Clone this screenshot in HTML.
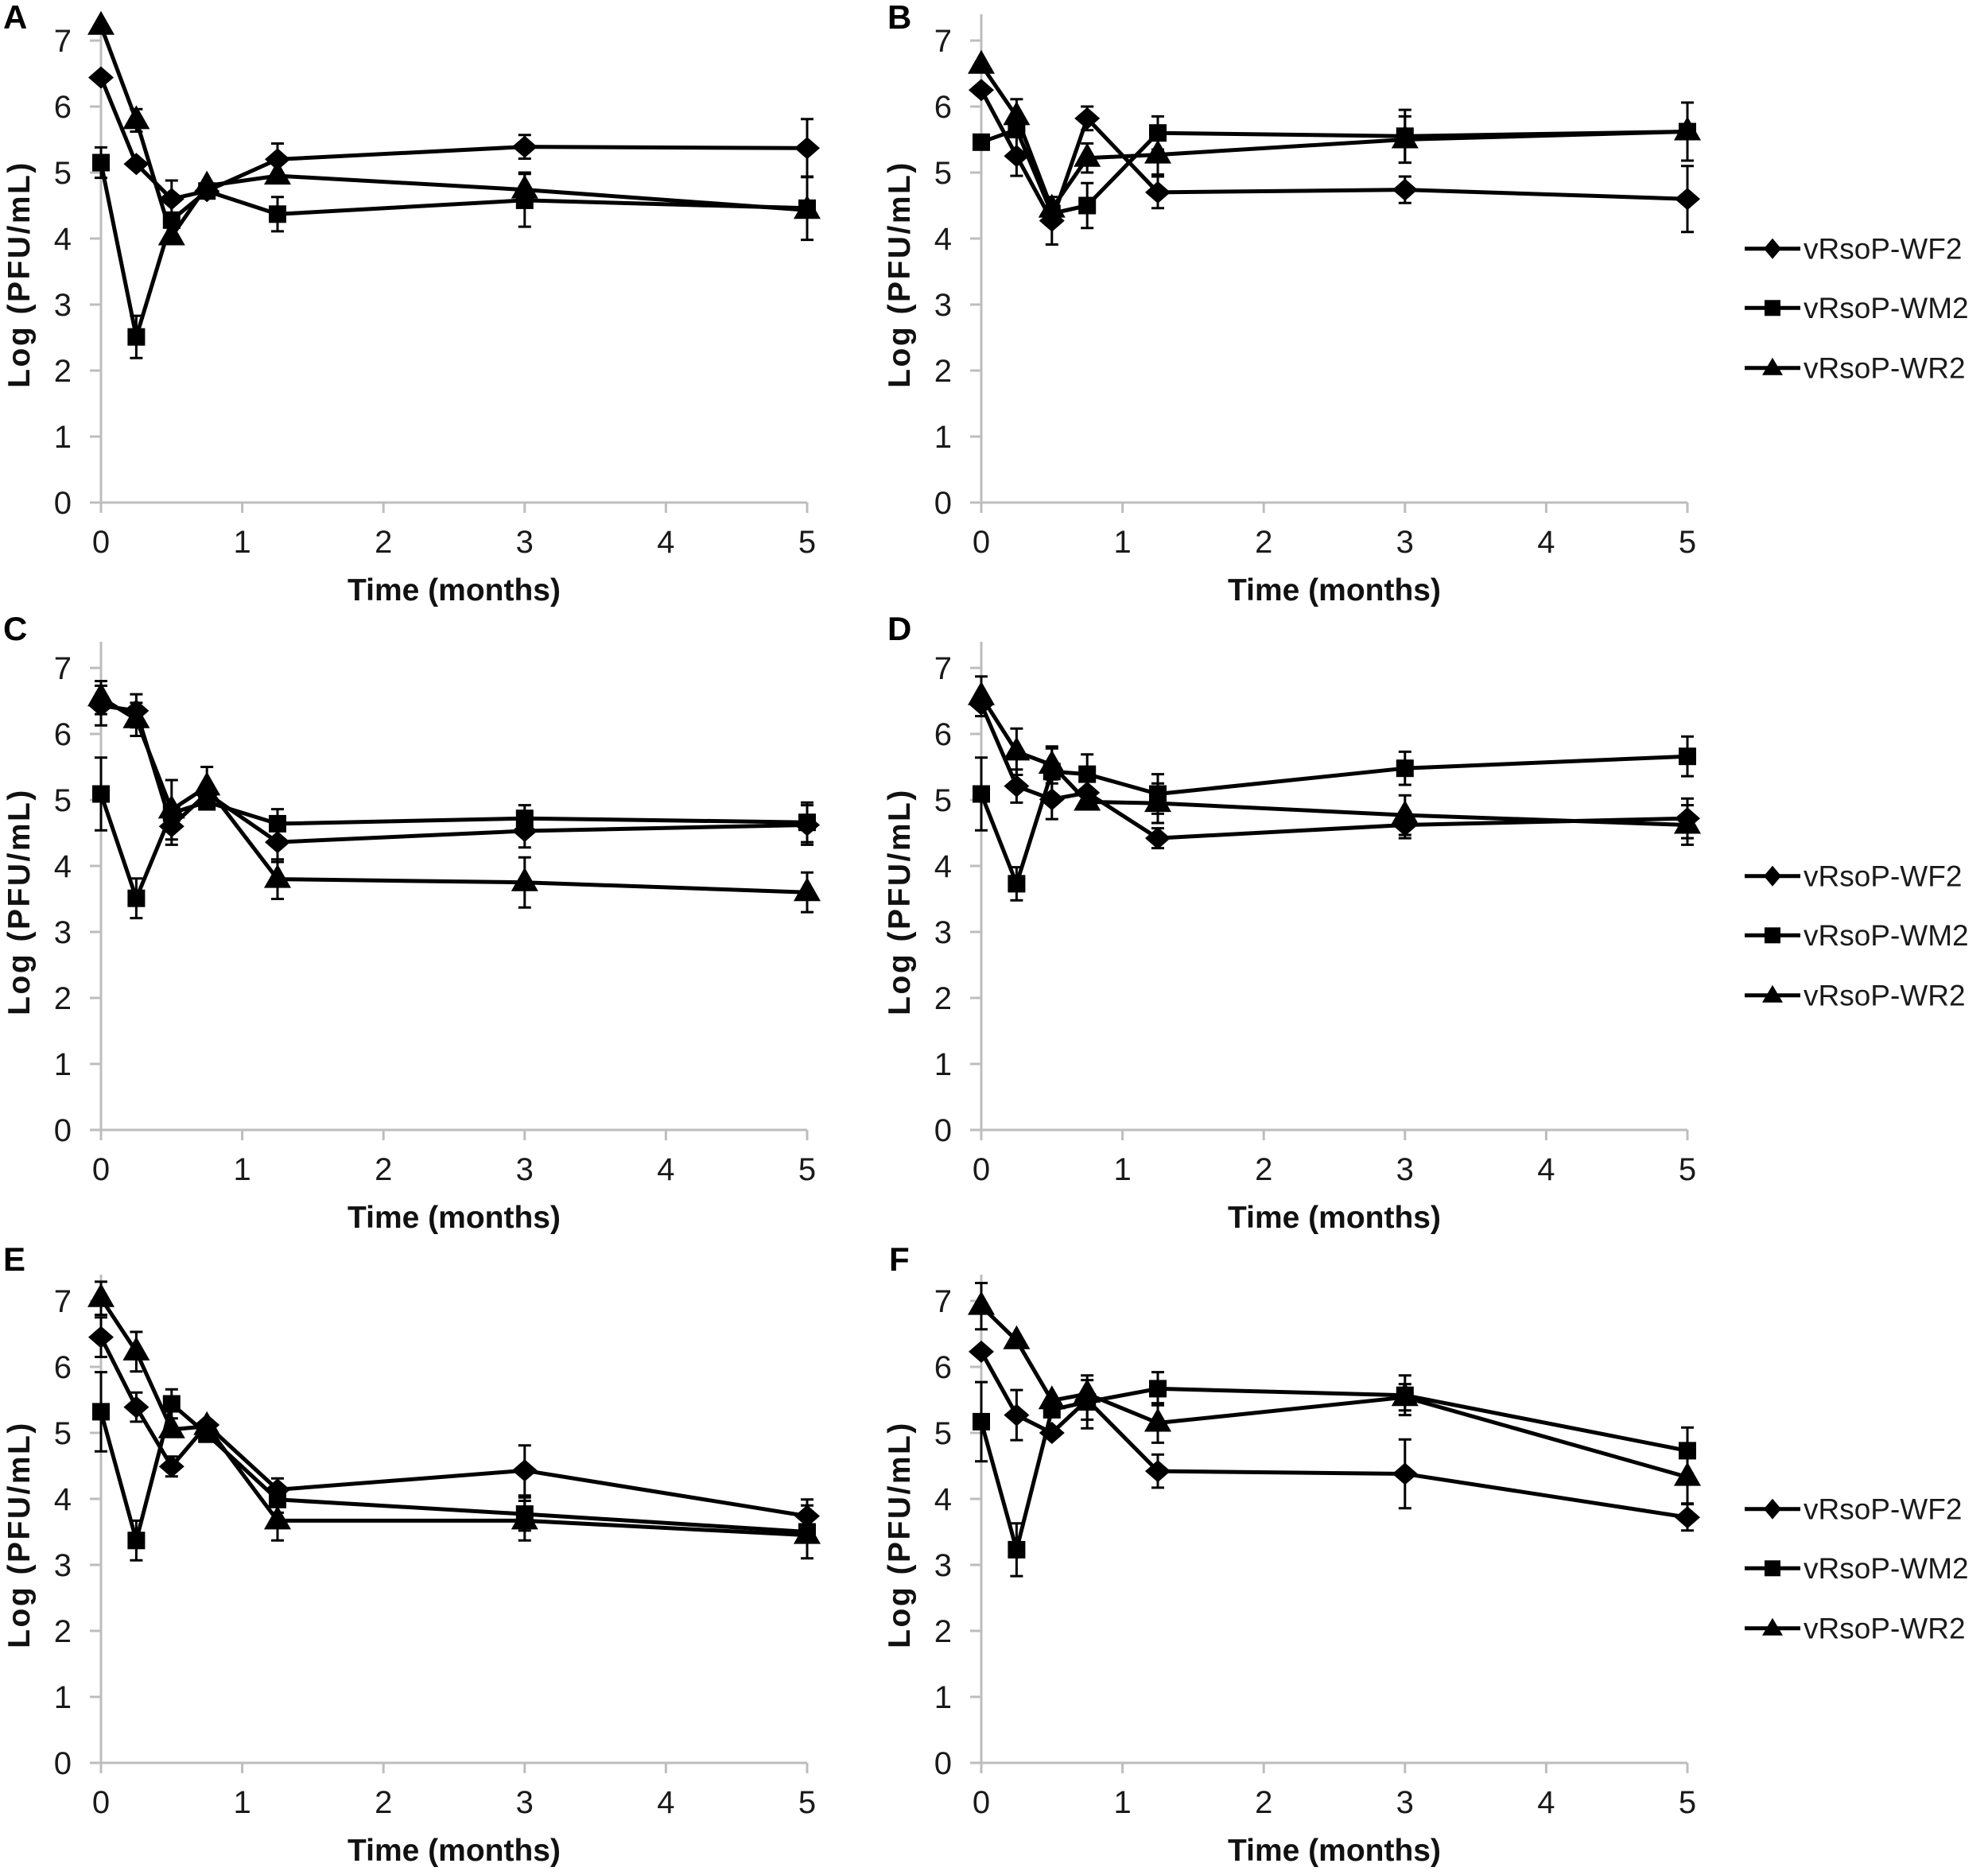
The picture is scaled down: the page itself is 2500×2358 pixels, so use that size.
<!DOCTYPE html>
<html><head><meta charset="utf-8"><style>
html,body{margin:0;padding:0;background:#fff;}
svg{display:block;}
text{font-family:"Liberation Sans",Arial,sans-serif;}
.ax{stroke:#bdbdbd;stroke-width:3;fill:none;}
.s{fill:none;stroke:#000;stroke-width:5;stroke-linejoin:round;}
.e{fill:none;stroke:#000;stroke-width:3;}
.tl{font-size:40px;fill:#1a1a1a;}
.xt{font-size:39px;font-weight:bold;fill:#111;}
.yt{font-size:39px;font-weight:bold;fill:#111;letter-spacing:2.5px;}
.pl{font-size:42px;font-weight:bold;fill:#000;}
.lg{font-size:37px;fill:#1a1a1a;}
</style></head><body>
<svg width="2500" height="2358" viewBox="0 0 2500 2358" xmlns="http://www.w3.org/2000/svg">
<defs>
<polygon id="dm" points="0,-14 16,0 0,14 -16,0" fill="#000"/>
<rect id="sq" x="-11" y="-11" width="22" height="22" fill="#000"/>
<polygon id="tr" points="0,-19 17,11 -17,11" fill="#000"/>
<polygon id="ldm" points="0,-13 11,0 0,13 -11,0" fill="#000"/>
<rect id="lsq" x="-10" y="-10" width="20" height="20" fill="#000"/>
<polygon id="ltr" points="0,-13 13,9 -13,9" fill="#000"/>
<path id="axp" d="M0,13 V-614 M-14,0 H888 M-14,-83H0 M-14,-166H0 M-14,-249H0 M-14,-332H0 M-14,-415H0 M-14,-498H0 M-14,-581H0 M177.6,0v13 M355.2,0v13 M532.8,0v13 M710.4,0v13 M888,0v13"/>
</defs>
<rect width="2500" height="2358" fill="#fff"/>

<text class="pl" x="4" y="36">A</text>
<text class="pl" x="1116" y="36">B</text>
<text class="pl" x="4" y="805">C</text>
<text class="pl" x="1116" y="805">D</text>
<text class="pl" x="4" y="1598">E</text>
<text class="pl" x="1118" y="1598">F</text>

<!-- ================= PANEL A ================= -->
<g transform="translate(127,632)">
<use href="#axp" class="ax"/>
<g class="tl" text-anchor="end"><text x="-37" y="14">0</text><text x="-37" y="-69">1</text><text x="-37" y="-152">2</text><text x="-37" y="-235">3</text><text x="-37" y="-318">4</text><text x="-37" y="-401">5</text><text x="-37" y="-484">6</text><text x="-37" y="-567">7</text></g>
<g class="tl" text-anchor="middle"><text x="0" y="63">0</text><text x="177.6" y="63">1</text><text x="355.2" y="63">2</text><text x="532.8" y="63">3</text><text x="710.4" y="63">4</text><text x="888" y="63">5</text></g>
<text class="xt" x="444" y="123" text-anchor="middle">Time (months)</text>
<text class="yt" transform="translate(-90,-287) rotate(-90)" text-anchor="middle">Log (PFU/mL)</text>
<path class="e" d="M88.8,-405V-358.6M80.8,-405h16M80.8,-358.6h16 M222,-451.5V-411.7M214,-451.5h16M214,-411.7h16 M532.8,-462.3V-432.5M524.8,-462.3h16M524.8,-432.5h16 M888,-482.2V-409.2M880,-482.2h16M880,-409.2h16"/>
<polyline class="s" points="0,-534.5 44.4,-425.8 88.8,-381.8 133.2,-391.8 222,-431.6 532.8,-447.4 888,-445.7"/>
<use href="#dm" x="0" y="-534.5"/><use href="#dm" x="44.4" y="-425.8"/><use href="#dm" x="88.8" y="-381.8"/><use href="#dm" x="133.2" y="-391.8"/><use href="#dm" x="222" y="-431.6"/><use href="#dm" x="532.8" y="-447.4"/><use href="#dm" x="888" y="-445.7"/>
<path class="e" d="M0,-446.6V-408.4M-8,-446.6h16M-8,-408.4h16 M44.4,-234.9V-181.7M36.4,-234.9h16M36.4,-181.7h16 M222,-384.3V-341.1M214,-384.3h16M214,-341.1h16 M532.8,-413.3V-346.9M524.8,-413.3h16M524.8,-346.9h16 M888,-410V-330.4M880,-410h16M880,-330.4h16"/>
<polyline class="s" points="0,-427.5 44.4,-208.3 88.8,-355.2 133.2,-391.8 222,-362.7 532.8,-380.1 888,-370.2"/>
<use href="#sq" x="0" y="-427.5"/><use href="#sq" x="44.4" y="-208.3"/><use href="#sq" x="88.8" y="-355.2"/><use href="#sq" x="133.2" y="-391.8"/><use href="#sq" x="222" y="-362.7"/><use href="#sq" x="532.8" y="-380.1"/><use href="#sq" x="888" y="-370.2"/>
<path class="e" d="M44.4,-494.7V-466.5M36.4,-494.7h16M36.4,-466.5h16 M532.8,-415V-371.8M524.8,-415h16M524.8,-371.8h16"/>
<polyline class="s" points="0,-599.3 44.4,-480.6 88.8,-334.5 133.2,-398.4 222,-410.9 532.8,-393.4 888,-367.7"/>
<use href="#tr" x="0" y="-599.3"/><use href="#tr" x="44.4" y="-480.6"/><use href="#tr" x="88.8" y="-334.5"/><use href="#tr" x="133.2" y="-398.4"/><use href="#tr" x="222" y="-410.9"/><use href="#tr" x="532.8" y="-393.4"/><use href="#tr" x="888" y="-367.7"/>
</g>

<!-- ================= PANEL B ================= -->
<g transform="translate(1234,632)">
<use href="#axp" class="ax"/>
<g class="tl" text-anchor="end"><text x="-37" y="14">0</text><text x="-37" y="-69">1</text><text x="-37" y="-152">2</text><text x="-37" y="-235">3</text><text x="-37" y="-318">4</text><text x="-37" y="-401">5</text><text x="-37" y="-484">6</text><text x="-37" y="-567">7</text></g>
<g class="tl" text-anchor="middle"><text x="0" y="63">0</text><text x="177.6" y="63">1</text><text x="355.2" y="63">2</text><text x="532.8" y="63">3</text><text x="710.4" y="63">4</text><text x="888" y="63">5</text></g>
<text class="xt" x="444" y="123" text-anchor="middle">Time (months)</text>
<text class="yt" transform="translate(-90,-287) rotate(-90)" text-anchor="middle">Log (PFU/mL)</text>
<path class="e" d="M44.4,-460.7V-410.9M36.4,-460.7h16M36.4,-410.9h16 M88.8,-384.3V-324.5M80.8,-384.3h16M80.8,-324.5h16 M133.2,-498V-468.2M125.2,-498h16M125.2,-468.2h16 M222,-410V-370.2M214,-410h16M214,-370.2h16 M532.8,-410V-376.8M524.8,-410h16M524.8,-376.8h16 M888,-423.3V-340.3M880,-423.3h16M880,-340.3h16"/>
<polyline class="s" points="0,-518.8 44.4,-435.8 88.8,-354.4 133.2,-483.1 222,-390.1 532.8,-393.4 888,-381.8"/>
<use href="#dm" x="0" y="-518.8"/><use href="#dm" x="44.4" y="-435.8"/><use href="#dm" x="88.8" y="-354.4"/><use href="#dm" x="133.2" y="-483.1"/><use href="#dm" x="222" y="-390.1"/><use href="#dm" x="532.8" y="-393.4"/><use href="#dm" x="888" y="-381.8"/>
<path class="e" d="M133.2,-401.7V-345.3M125.2,-401.7h16M125.2,-345.3h16 M222,-485.6V-444M214,-485.6h16M214,-444h16 M532.8,-493.9V-427.5M524.8,-493.9h16M524.8,-427.5h16"/>
<polyline class="s" points="0,-453.2 44.4,-469 88.8,-363.5 133.2,-373.5 222,-464.8 532.8,-460.7 888,-466.5"/>
<use href="#sq" x="0" y="-453.2"/><use href="#sq" x="44.4" y="-469"/><use href="#sq" x="88.8" y="-363.5"/><use href="#sq" x="133.2" y="-373.5"/><use href="#sq" x="222" y="-464.8"/><use href="#sq" x="532.8" y="-460.7"/><use href="#sq" x="888" y="-466.5"/>
<path class="e" d="M44.4,-507.2V-464M36.4,-507.2h16M36.4,-464h16 M133.2,-451.6V-415M125.2,-451.6h16M125.2,-415h16 M222,-462.3V-412.5M214,-462.3h16M214,-412.5h16 M532.8,-485.6V-427.4M524.8,-485.6h16M524.8,-427.4h16 M888,-503V-430M880,-503h16M880,-430h16"/>
<polyline class="s" points="0,-550.3 44.4,-485.6 88.8,-369.4 133.2,-433.3 222,-437.4 532.8,-456.5 888,-466.5"/>
<use href="#tr" x="0" y="-550.3"/><use href="#tr" x="44.4" y="-485.6"/><use href="#tr" x="88.8" y="-369.4"/><use href="#tr" x="133.2" y="-433.3"/><use href="#tr" x="222" y="-437.4"/><use href="#tr" x="532.8" y="-456.5"/><use href="#tr" x="888" y="-466.5"/>
</g>

<!-- ================= PANEL C ================= -->
<g transform="translate(127,1421)">
<use href="#axp" class="ax"/>
<g class="tl" text-anchor="end"><text x="-37" y="14">0</text><text x="-37" y="-69">1</text><text x="-37" y="-152">2</text><text x="-37" y="-235">3</text><text x="-37" y="-318">4</text><text x="-37" y="-401">5</text><text x="-37" y="-484">6</text><text x="-37" y="-567">7</text></g>
<g class="tl" text-anchor="middle"><text x="0" y="63">0</text><text x="177.6" y="63">1</text><text x="355.2" y="63">2</text><text x="532.8" y="63">3</text><text x="710.4" y="63">4</text><text x="888" y="63">5</text></g>
<text class="xt" x="444" y="123" text-anchor="middle">Time (months)</text>
<text class="yt" transform="translate(-90,-287) rotate(-90)" text-anchor="middle">Log (PFU/mL)</text>
<path class="e" d="M0,-558.6V-508.8M-8,-558.6h16M-8,-508.8h16 M44.4,-547.9V-506.3M36.4,-547.9h16M36.4,-506.3h16 M88.8,-405V-358.6M80.8,-405h16M80.8,-358.6h16 M222,-386.8V-337M214,-386.8h16M214,-337h16 M532.8,-396.8V-355.2M524.8,-396.8h16M524.8,-355.2h16 M888,-408.4V-358.6M880,-408.4h16M880,-358.6h16"/>
<polyline class="s" points="0,-533.7 44.4,-527.1 88.8,-381.8 133.2,-423.3 222,-361.9 532.8,-376 888,-383.5"/>
<use href="#dm" x="0" y="-533.7"/><use href="#dm" x="44.4" y="-527.1"/><use href="#dm" x="88.8" y="-381.8"/><use href="#dm" x="133.2" y="-423.3"/><use href="#dm" x="222" y="-361.9"/><use href="#dm" x="532.8" y="-376"/><use href="#dm" x="888" y="-383.5"/>
<path class="e" d="M0,-468.2V-376.8M-8,-468.2h16M-8,-376.8h16 M44.4,-316.2V-266.4M36.4,-316.2h16M36.4,-266.4h16 M222,-403.4V-366.8M214,-403.4h16M214,-366.8h16 M532.8,-408.4V-375.2M524.8,-408.4h16M524.8,-375.2h16 M888,-411.7V-361.9M880,-411.7h16M880,-361.9h16"/>
<polyline class="s" points="0,-422.5 44.4,-291.3 88.8,-398.4 133.2,-412.5 222,-385.1 532.8,-391.8 888,-386.8"/>
<use href="#sq" x="0" y="-422.5"/><use href="#sq" x="44.4" y="-291.3"/><use href="#sq" x="88.8" y="-398.4"/><use href="#sq" x="133.2" y="-412.5"/><use href="#sq" x="222" y="-385.1"/><use href="#sq" x="532.8" y="-391.8"/><use href="#sq" x="888" y="-386.8"/>
<path class="e" d="M0,-564.5V-522.9M-8,-564.5h16M-8,-522.9h16 M44.4,-537.1V-495.5M36.4,-537.1h16M36.4,-495.5h16 M88.8,-440V-365.2M80.8,-440h16M80.8,-365.2h16 M133.2,-456.5V-406.7M125.2,-456.5h16M125.2,-406.7h16 M222,-340.3V-290.5M214,-340.3h16M214,-290.5h16 M532.8,-342.8V-279.8M524.8,-342.8h16M524.8,-279.8h16 M888,-323.7V-273.9M880,-323.7h16M880,-273.9h16"/>
<polyline class="s" points="0,-543.7 44.4,-516.3 88.8,-402.6 133.2,-431.6 222,-315.4 532.8,-311.3 888,-298.8"/>
<use href="#tr" x="0" y="-543.7"/><use href="#tr" x="44.4" y="-516.3"/><use href="#tr" x="88.8" y="-402.6"/><use href="#tr" x="133.2" y="-431.6"/><use href="#tr" x="222" y="-315.4"/><use href="#tr" x="532.8" y="-311.3"/><use href="#tr" x="888" y="-298.8"/>
</g>

<!-- ================= PANEL D ================= -->
<g transform="translate(1234,1421)">
<use href="#axp" class="ax"/>
<g class="tl" text-anchor="end"><text x="-37" y="14">0</text><text x="-37" y="-69">1</text><text x="-37" y="-152">2</text><text x="-37" y="-235">3</text><text x="-37" y="-318">4</text><text x="-37" y="-401">5</text><text x="-37" y="-484">6</text><text x="-37" y="-567">7</text></g>
<g class="tl" text-anchor="middle"><text x="0" y="63">0</text><text x="177.6" y="63">1</text><text x="355.2" y="63">2</text><text x="532.8" y="63">3</text><text x="710.4" y="63">4</text><text x="888" y="63">5</text></g>
<text class="xt" x="444" y="123" text-anchor="middle">Time (months)</text>
<text class="yt" transform="translate(-90,-287) rotate(-90)" text-anchor="middle">Log (PFU/mL)</text>
<path class="e" d="M44.4,-453.2V-411.6M36.4,-453.2h16M36.4,-411.6h16 M88.8,-440.7V-390.9M80.8,-440.7h16M80.8,-390.9h16 M222,-379.4V-354.4M214,-379.4h16M214,-354.4h16 M532.8,-400.1V-366.9M524.8,-400.1h16M524.8,-366.9h16 M888,-416.7V-366.9M880,-416.7h16M880,-366.9h16"/>
<polyline class="s" points="0,-535.4 44.4,-432.4 88.8,-415.8 133.2,-424.1 222,-366.9 532.8,-383.5 888,-391.8"/>
<use href="#dm" x="0" y="-535.4"/><use href="#dm" x="44.4" y="-432.4"/><use href="#dm" x="88.8" y="-415.8"/><use href="#dm" x="133.2" y="-424.1"/><use href="#dm" x="222" y="-366.9"/><use href="#dm" x="532.8" y="-383.5"/><use href="#dm" x="888" y="-391.8"/>
<path class="e" d="M0,-468.2V-376.8M-8,-468.2h16M-8,-376.8h16 M44.4,-330.4V-288.8M36.4,-330.4h16M36.4,-288.8h16 M88.8,-479.8V-421.6M80.8,-479.8h16M80.8,-421.6h16 M133.2,-472.3V-422.5M125.2,-472.3h16M125.2,-422.5h16 M222,-447.4V-397.6M214,-447.4h16M214,-397.6h16 M532.8,-475.6V-434M524.8,-475.6h16M524.8,-434h16 M888,-494.7V-444.9M880,-494.7h16M880,-444.9h16"/>
<polyline class="s" points="0,-422.5 44.4,-309.6 88.8,-450.7 133.2,-447.4 222,-422.5 532.8,-454.8 888,-469.8"/>
<use href="#sq" x="0" y="-422.5"/><use href="#sq" x="44.4" y="-309.6"/><use href="#sq" x="88.8" y="-450.7"/><use href="#sq" x="133.2" y="-447.4"/><use href="#sq" x="222" y="-422.5"/><use href="#sq" x="532.8" y="-454.8"/><use href="#sq" x="888" y="-469.8"/>
<path class="e" d="M0,-570.2V-520.4M-8,-570.2h16M-8,-520.4h16 M44.4,-504.7V-446.5M36.4,-504.7h16M36.4,-446.5h16 M88.8,-482.2V-435.8M80.8,-482.2h16M80.8,-435.8h16 M222,-435.8V-386M214,-435.8h16M214,-386h16 M532.8,-420.8V-371M524.8,-420.8h16M524.8,-371h16 M888,-408.4V-358.6M880,-408.4h16M880,-358.6h16"/>
<polyline class="s" points="0,-545.3 44.4,-475.6 88.8,-459 133.2,-412.5 222,-410.9 532.8,-395.9 888,-383.5"/>
<use href="#tr" x="0" y="-545.3"/><use href="#tr" x="44.4" y="-475.6"/><use href="#tr" x="88.8" y="-459"/><use href="#tr" x="133.2" y="-412.5"/><use href="#tr" x="222" y="-410.9"/><use href="#tr" x="532.8" y="-395.9"/><use href="#tr" x="888" y="-383.5"/>
</g>

<!-- ================= PANEL E ================= -->
<g transform="translate(127,2217)">
<use href="#axp" class="ax"/>
<g class="tl" text-anchor="end"><text x="-37" y="14">0</text><text x="-37" y="-69">1</text><text x="-37" y="-152">2</text><text x="-37" y="-235">3</text><text x="-37" y="-318">4</text><text x="-37" y="-401">5</text><text x="-37" y="-484">6</text><text x="-37" y="-567">7</text></g>
<g class="tl" text-anchor="middle"><text x="0" y="63">0</text><text x="177.6" y="63">1</text><text x="355.2" y="63">2</text><text x="532.8" y="63">3</text><text x="710.4" y="63">4</text><text x="888" y="63">5</text></g>
<text class="xt" x="444" y="123" text-anchor="middle">Time (months)</text>
<text class="yt" transform="translate(-90,-287) rotate(-90)" text-anchor="middle">Log (PFU/mL)</text>
<path class="e" d="M0,-560.3V-510.5M-8,-560.3h16M-8,-510.5h16 M44.4,-465.7V-429.1M36.4,-465.7h16M36.4,-429.1h16 M88.8,-385.2V-360.2M80.8,-385.2h16M80.8,-360.2h16 M222,-357.7V-329.5M214,-357.7h16M214,-329.5h16 M532.8,-399.2V-336.2M524.8,-399.2h16M524.8,-336.2h16 M888,-331.2V-289.6M880,-331.2h16M880,-289.6h16"/>
<polyline class="s" points="0,-535.4 44.4,-447.4 88.8,-372.7 133.2,-425 222,-343.6 532.8,-367.7 888,-310.4"/>
<use href="#dm" x="0" y="-535.4"/><use href="#dm" x="44.4" y="-447.4"/><use href="#dm" x="88.8" y="-372.7"/><use href="#dm" x="133.2" y="-425"/><use href="#dm" x="222" y="-343.6"/><use href="#dm" x="532.8" y="-367.7"/><use href="#dm" x="888" y="-310.4"/>
<path class="e" d="M0,-491.4V-391.8M-8,-491.4h16M-8,-391.8h16 M44.4,-304.6V-254.8M36.4,-304.6h16M36.4,-254.8h16 M88.8,-469.8V-433.2M80.8,-469.8h16M80.8,-433.2h16 M222,-347.8V-314.6M214,-347.8h16M214,-314.6h16 M532.8,-333.7V-292.1M524.8,-333.7h16M524.8,-292.1h16 M888,-323.7V-257.3M880,-323.7h16M880,-257.3h16"/>
<polyline class="s" points="0,-441.6 44.4,-279.7 88.8,-451.5 133.2,-413.3 222,-331.2 532.8,-312.9 888,-290.5"/>
<use href="#sq" x="0" y="-441.6"/><use href="#sq" x="44.4" y="-279.7"/><use href="#sq" x="88.8" y="-451.5"/><use href="#sq" x="133.2" y="-413.3"/><use href="#sq" x="222" y="-331.2"/><use href="#sq" x="532.8" y="-312.9"/><use href="#sq" x="888" y="-290.5"/>
<path class="e" d="M0,-605.1V-563.5M-8,-605.1h16M-8,-563.5h16 M44.4,-542V-492.2M36.4,-542h16M36.4,-492.2h16 M222,-329.5V-279.7M214,-329.5h16M214,-279.7h16 M532.8,-329.5V-279.7M524.8,-329.5h16M524.8,-279.7h16"/>
<polyline class="s" points="0,-584.3 44.4,-517.1 88.8,-419.2 133.2,-423.3 222,-304.6 532.8,-304.6 888,-286.4"/>
<use href="#tr" x="0" y="-584.3"/><use href="#tr" x="44.4" y="-517.1"/><use href="#tr" x="88.8" y="-419.2"/><use href="#tr" x="133.2" y="-423.3"/><use href="#tr" x="222" y="-304.6"/><use href="#tr" x="532.8" y="-304.6"/><use href="#tr" x="888" y="-286.4"/>
</g>

<!-- ================= PANEL F ================= -->
<g transform="translate(1234,2217)">
<use href="#axp" class="ax"/>
<g class="tl" text-anchor="end"><text x="-37" y="14">0</text><text x="-37" y="-69">1</text><text x="-37" y="-152">2</text><text x="-37" y="-235">3</text><text x="-37" y="-318">4</text><text x="-37" y="-401">5</text><text x="-37" y="-484">6</text><text x="-37" y="-567">7</text></g>
<g class="tl" text-anchor="middle"><text x="0" y="63">0</text><text x="177.6" y="63">1</text><text x="355.2" y="63">2</text><text x="532.8" y="63">3</text><text x="710.4" y="63">4</text><text x="888" y="63">5</text></g>
<text class="xt" x="444" y="123" text-anchor="middle">Time (months)</text>
<text class="yt" transform="translate(-90,-287) rotate(-90)" text-anchor="middle">Log (PFU/mL)</text>
<path class="e" d="M44.4,-468.9V-405.9M36.4,-468.9h16M36.4,-405.9h16 M133.2,-481.4V-431.6M125.2,-481.4h16M125.2,-431.6h16 M222,-387.7V-346.1M214,-387.7h16M214,-346.1h16 M532.8,-406.7V-320.3M524.8,-406.7h16M524.8,-320.3h16 M888,-325.4V-292.2M880,-325.4h16M880,-292.2h16"/>
<polyline class="s" points="0,-517.1 44.4,-437.4 88.8,-415 133.2,-456.5 222,-366.9 532.8,-363.5 888,-308.8"/>
<use href="#dm" x="0" y="-517.1"/><use href="#dm" x="44.4" y="-437.4"/><use href="#dm" x="88.8" y="-415"/><use href="#dm" x="133.2" y="-456.5"/><use href="#dm" x="222" y="-366.9"/><use href="#dm" x="532.8" y="-363.5"/><use href="#dm" x="888" y="-308.8"/>
<path class="e" d="M0,-478.9V-379.3M-8,-478.9h16M-8,-379.3h16 M44.4,-301.3V-234.9M36.4,-301.3h16M36.4,-234.9h16 M133.2,-487.2V-420.8M125.2,-487.2h16M125.2,-420.8h16 M222,-491.4V-449.8M214,-491.4h16M214,-449.8h16 M532.8,-487.2V-437.4M524.8,-487.2h16M524.8,-437.4h16 M888,-421.7V-363.5M880,-421.7h16M880,-363.5h16"/>
<polyline class="s" points="0,-429.1 44.4,-268.1 88.8,-444.1 133.2,-454 222,-470.6 532.8,-462.3 888,-392.6"/>
<use href="#sq" x="0" y="-429.1"/><use href="#sq" x="44.4" y="-268.1"/><use href="#sq" x="88.8" y="-444.1"/><use href="#sq" x="133.2" y="-454"/><use href="#sq" x="222" y="-470.6"/><use href="#sq" x="532.8" y="-462.3"/><use href="#sq" x="888" y="-392.6"/>
<path class="e" d="M0,-603.5V-545.3M-8,-603.5h16M-8,-545.3h16 M222,-452.4V-402.6M214,-452.4h16M214,-402.6h16 M532.8,-476.4V-443.2M524.8,-476.4h16M524.8,-443.2h16 M888,-392.6V-326.2M880,-392.6h16M880,-326.2h16"/>
<polyline class="s" points="0,-574.4 44.4,-531.2 88.8,-455.7 133.2,-464 222,-427.5 532.8,-459.8 888,-359.4"/>
<use href="#tr" x="0" y="-574.4"/><use href="#tr" x="44.4" y="-531.2"/><use href="#tr" x="88.8" y="-455.7"/><use href="#tr" x="133.2" y="-464"/><use href="#tr" x="222" y="-427.5"/><use href="#tr" x="532.8" y="-459.8"/><use href="#tr" x="888" y="-359.4"/>
</g>

<!-- ================= LEGENDS ================= -->
<g transform="translate(0,0)">
<path class="s" d="M2194,312.7H2264 M2194,387.3H2264 M2194,462.7H2264"/>
<use href="#ldm" x="2229" y="312.7"/><use href="#lsq" x="2229" y="387.3"/><use href="#ltr" x="2229" y="462.7"/>
<text class="lg" x="2268" y="325.5">vRsoP-WF2</text>
<text class="lg" x="2268" y="400">vRsoP-WM2</text>
<text class="lg" x="2268" y="475.5">vRsoP-WR2</text>
</g>
<g transform="translate(0,789)">
<path class="s" d="M2194,312.7H2264 M2194,387.3H2264 M2194,462.7H2264"/>
<use href="#ldm" x="2229" y="312.7"/><use href="#lsq" x="2229" y="387.3"/><use href="#ltr" x="2229" y="462.7"/>
<text class="lg" x="2268" y="325.5">vRsoP-WF2</text>
<text class="lg" x="2268" y="400">vRsoP-WM2</text>
<text class="lg" x="2268" y="475.5">vRsoP-WR2</text>
</g>
<g transform="translate(0,1585)">
<path class="s" d="M2194,312.7H2264 M2194,387.3H2264 M2194,462.7H2264"/>
<use href="#ldm" x="2229" y="312.7"/><use href="#lsq" x="2229" y="387.3"/><use href="#ltr" x="2229" y="462.7"/>
<text class="lg" x="2268" y="325.5">vRsoP-WF2</text>
<text class="lg" x="2268" y="400">vRsoP-WM2</text>
<text class="lg" x="2268" y="475.5">vRsoP-WR2</text>
</g>
</svg>
</body></html>
